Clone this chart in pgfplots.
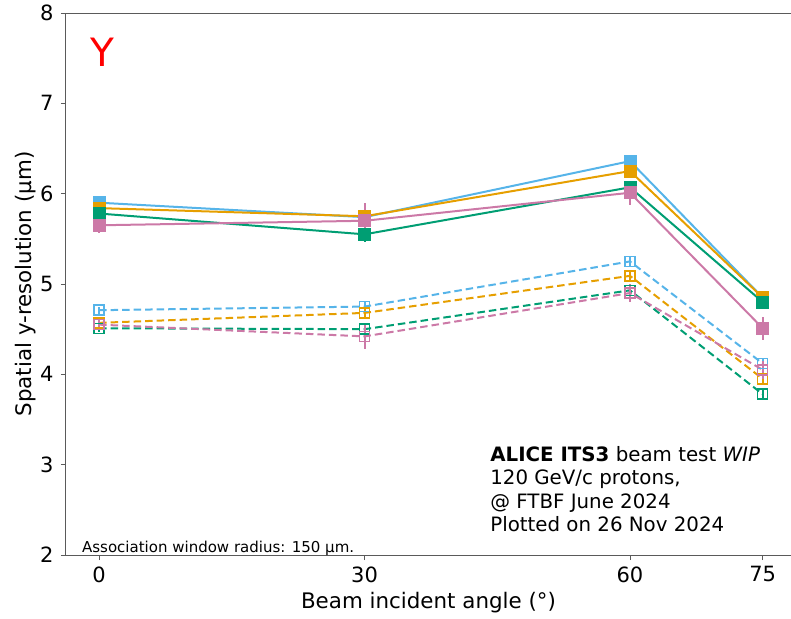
\documentclass[border=0pt]{standalone}
\usepackage{pgfplots}
\pgfplotsset{compat=1.18}
\usepackage{fontspec}
\setmainfont{DejaVu Sans}
\definecolor{cblue}{HTML}{56B4E9}
\definecolor{corange}{HTML}{E69F00}
\definecolor{cgreen}{HTML}{009E73}
\definecolor{cpink}{HTML}{CC79A7}
\definecolor{spine}{RGB}{90,90,90}
\begin{document}
\begin{tikzpicture}
\begin{axis}[
  name=ax,
  scale only axis, width=725pt, height=542pt,
  xmin=-3.75, xmax=78.2, ymin=2, ymax=8,
  separate axis lines,
  axis x line*=box, axis y line*=left,
  axis line style={spine, line width=1pt},
  xtick={0,30,60,75}, ytick={2,3,4,5,6,7,8},
  xtick pos=bottom, ytick pos=left,
  tick align=outside, major tick length=5pt,
  tick style={spine, line width=1pt},
  /pgf/number format/assume math mode=true,
  ticklabel style={font=\fontsize{21pt}{24pt}\selectfont},
  xticklabel style={yshift=-3pt},
  yticklabel style={xshift=-4pt},
  xlabel={Beam incident angle (°)},
  ylabel={Spatial y-resolution (µm)},
  every axis x label/.style={at={(axis description cs:0.5,-0.0996)}, anchor=base, font=\fontsize{21.4pt}{24pt}\selectfont},
  every axis y label/.style={at={(axis description cs:-0.0469,0.5)}, rotate=90, anchor=base, font=\fontsize{21.4pt}{24pt}\selectfont},
  clip=false,
]
% solid series
\addplot[cblue, line width=2pt, mark=square*, mark size=5.5pt, mark options={solid},
  error bars/.cd, y dir=both, y explicit, error mark=none, error bar style={line width=2pt}]
  table[x=x, y=y, y error=e] {
x y e
0 5.90 0.04
30 5.74 0.05
60 6.36 0.07
75 4.85 0.05
};
\addplot[corange, line width=2pt, mark=square*, mark size=5.5pt, mark options={solid},
  error bars/.cd, y dir=both, y explicit, error mark=none, error bar style={line width=2pt}]
  table[x=x, y=y, y error=e] {
x y e
0 5.84 0.04
30 5.75 0.05
60 6.25 0.06
75 4.85 0.05
};
\addplot[cgreen, line width=2pt, mark=square*, mark size=5.5pt, mark options={solid},
  error bars/.cd, y dir=both, y explicit, error mark=none, error bar style={line width=2pt}]
  table[x=x, y=y, y error=e] {
x y e
0 5.78 0.05
30 5.55 0.09
60 6.07 0.07
75 4.80 0.08
};
\addplot[cpink, line width=2pt, mark=square*, mark size=5.5pt, mark options={solid},
  error bars/.cd, y dir=both, y explicit, error mark=none, error bar style={line width=2pt}]
  table[x=x, y=y, y error=e] {
x y e
0 5.65 0.08
30 5.70 0.20
60 6.01 0.13
75 4.51 0.13
};
% dashed series
\addplot[cblue, line width=2pt, dash pattern=on 7.5pt off 4pt, mark=square, mark size=5pt, mark options={solid, line width=1.5pt},
  error bars/.cd, y dir=both, y explicit, error mark=none, error bar style={line width=2pt, solid}]
  table[x=x, y=y, y error=e] {
x y e
0 4.71 0.04
30 4.75 0.05
60 5.25 0.05
75 4.12 0.05
};
\addplot[corange, line width=2pt, dash pattern=on 7.5pt off 4pt, mark=square, mark size=5pt, mark options={solid, line width=1.5pt},
  error bars/.cd, y dir=both, y explicit, error mark=none, error bar style={line width=2pt, solid}]
  table[x=x, y=y, y error=e] {
x y e
0 4.57 0.04
30 4.68 0.05
60 5.09 0.05
75 3.95 0.05
};
\addplot[cgreen, line width=2pt, dash pattern=on 7.5pt off 4pt, mark=square, mark size=5pt, mark options={solid, line width=1.5pt},
  error bars/.cd, y dir=both, y explicit, error mark=none, error bar style={line width=2pt, solid}]
  table[x=x, y=y, y error=e] {
x y e
0 4.51 0.04
30 4.50 0.05
60 4.93 0.05
75 3.78 0.05
};
\addplot[cpink, line width=2pt, dash pattern=on 7.5pt off 4pt, mark=square, mark size=5pt, mark options={solid, line width=1.5pt},
  error bars/.cd, y dir=both, y explicit, error mark=none, error bar style={line width=2pt, solid}]
  table[x=x, y=y, y error=e] {
x y e
0 4.55 0.06
30 4.42 0.14
60 4.90 0.10
75 4.05 0.10
};
\node[anchor=base west, inner sep=0pt, text=red, font=\fontsize{39pt}{44pt}\selectfont]
  at (rel axis cs:0.033,0.902) {Y};
\node[anchor=base west, inner sep=0pt, font=\fontsize{15pt}{17pt}\selectfont]
  at (rel axis cs:0.022,0.0055) {Association window radius: 150 µm.};
\node[anchor=north west, inner sep=0pt, align=left, font=\fontsize{19.8pt}{23.5pt}\selectfont]
  at (rel axis cs:0.585,0.201) {\textbf{ALICE ITS3} beam test \textit{WIP}\\120 GeV/c protons,\\@ FTBF June 2024\\Plotted on 26 Nov 2024};
\end{axis}
\pgfresetboundingbox
\path[use as bounding box] ([xshift=-66pt,yshift=-63pt]ax.south west) rectangle ++(791pt,618pt);
\end{tikzpicture}
\end{document}
